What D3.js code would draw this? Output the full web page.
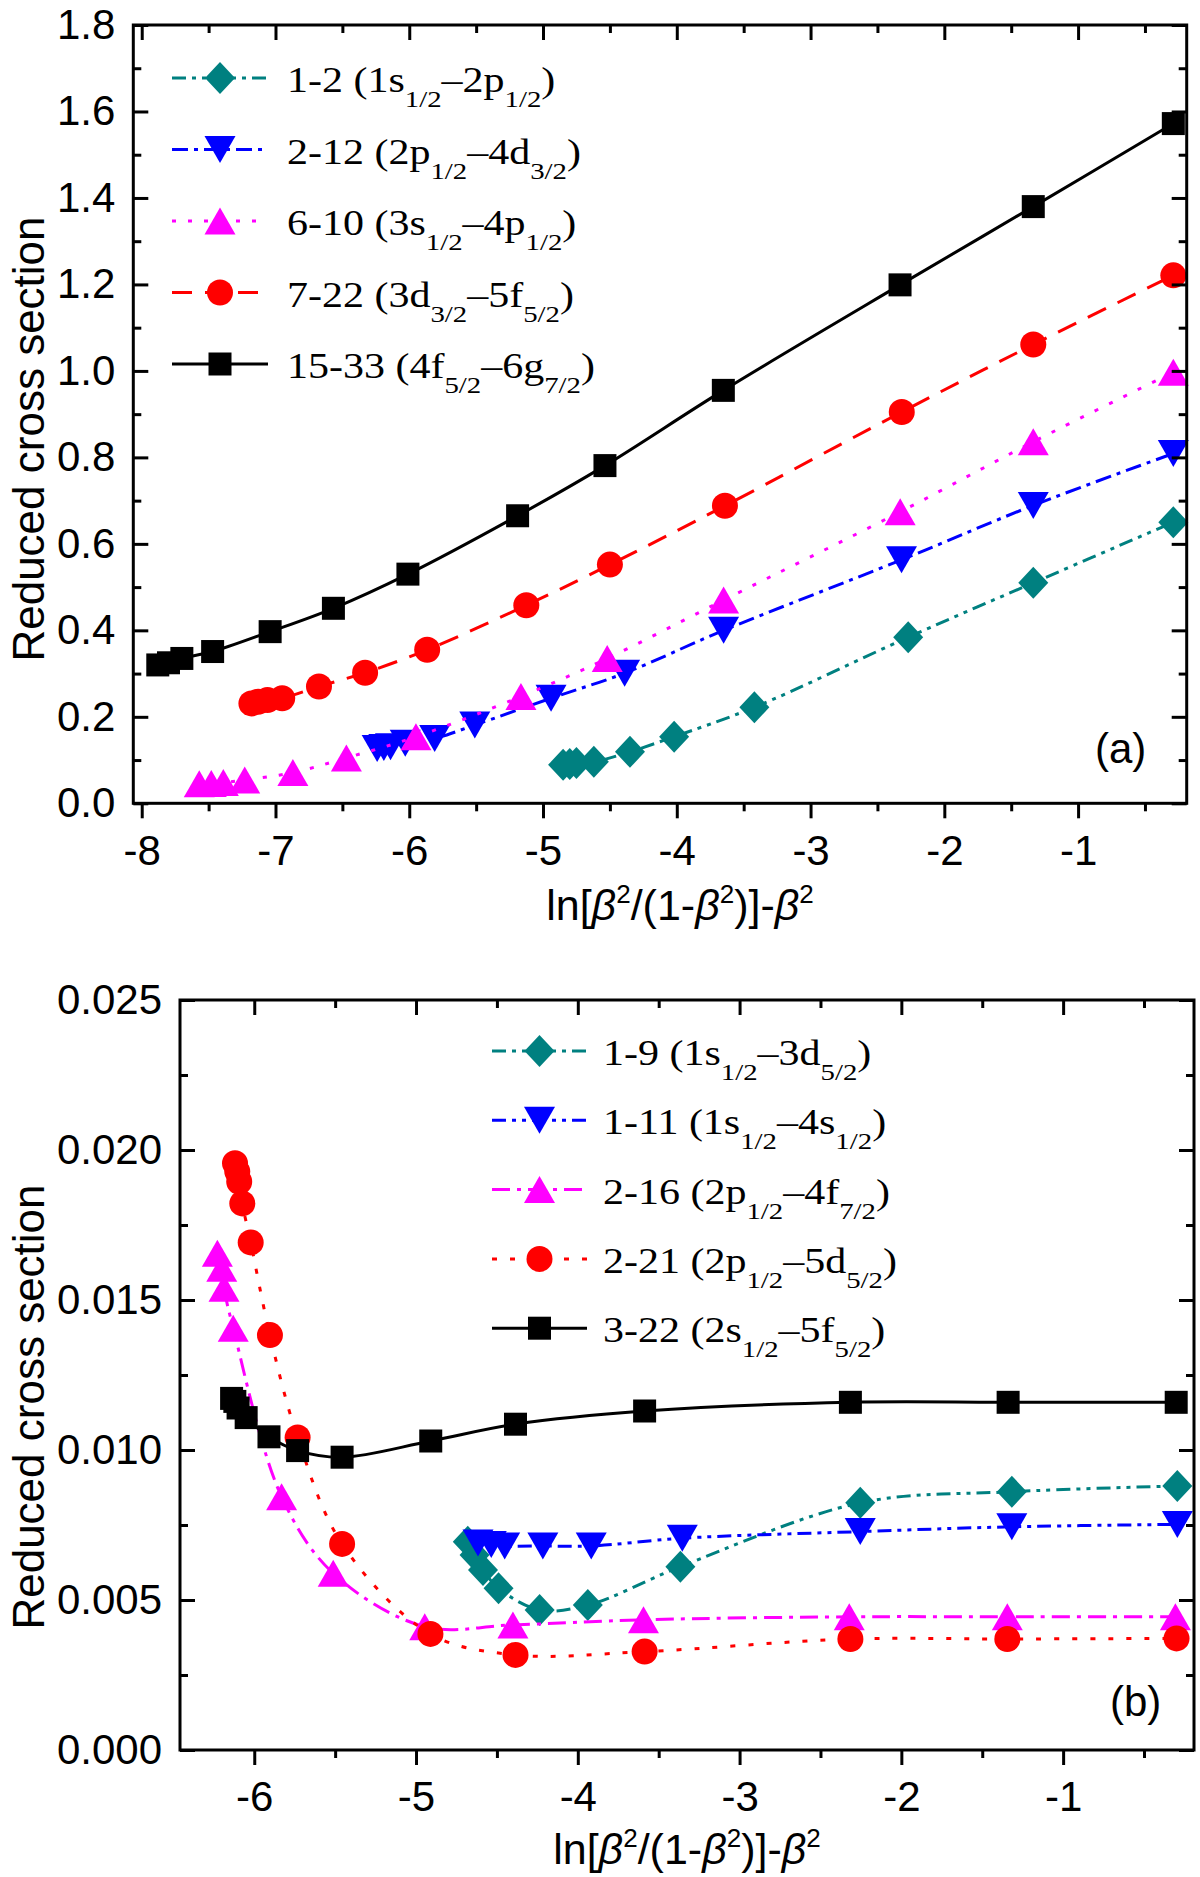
<!DOCTYPE html>
<html>
<head>
<meta charset="utf-8">
<script src="https://cdn.jsdelivr.net/npm/d3@7"></script>
<style>
  body { margin: 0; background: #fff; }
  svg { display: block; }
</style>
</head>
<body>
<svg id="chart" width="1200" height="1877"></svg>
<script>
// ---- panel (a) data ----
const a12X = [-4.85, -4.80, -4.75, -4.62, -4.35, -4.02, -3.42, -2.27, -1.335, -0.288];
const a12Y = [0.089, 0.091, 0.093, 0.096, 0.119, 0.154, 0.222, 0.384, 0.510, 0.650];
const a212X = [-6.24, -6.19, -6.14, -6.03, -5.81, -5.51, -4.94, -4.39, -3.65, -2.32, -1.335, -0.288];
const a212Y = [0.127, 0.129, 0.131, 0.139, 0.150, 0.181, 0.243, 0.301, 0.400, 0.563, 0.689, 0.809];
const a610X = [-7.57, -7.48, -7.39, -7.23, -6.87, -6.47, -5.95, -5.165, -4.52, -3.65, -2.33, -1.335, -0.288];
const a610Y = [0.045, 0.046, 0.048, 0.054, 0.071, 0.105, 0.154, 0.247, 0.335, 0.470, 0.674, 0.836, 0.997];
const a722X = [-7.18, -7.13, -7.06, -6.95, -6.675, -6.33, -5.866, -5.125, -4.50, -3.64, -2.318, -1.335, -0.288];
const a722Y = [0.231, 0.235, 0.239, 0.243, 0.270, 0.302, 0.355, 0.458, 0.552, 0.688, 0.905, 1.061, 1.221];
const a1533X = [-7.88, -7.80, -7.70, -7.47, -7.04, -6.567, -6.01, -5.19, -4.537, -3.652, -2.331, -1.335, -0.288];
const a1533Y = [0.320, 0.325, 0.335, 0.351, 0.397, 0.451, 0.530, 0.665, 0.781, 0.955, 1.199, 1.380, 1.572];

// ---- panel (b) data ----
const b19X = [-4.68, -4.638, -4.586, -4.49, -4.236, -3.938, -3.366, -2.254, -1.317, -0.294];
const b19Y = [0.00694, 0.00650, 0.00600, 0.00539, 0.00467, 0.00483, 0.00611, 0.00824, 0.00861, 0.00880];
const b111X = [-4.617, -4.535, -4.452, -4.216, -3.917, -3.354, -2.254, -1.317, -0.294];
const b111Y = [0.00690, 0.00685, 0.00680, 0.00680, 0.00680, 0.00706, 0.00728, 0.00744, 0.00752];
const b216X = [-6.228, -6.201, -6.187, -6.130, -5.831, -5.512, -4.946, -4.401, -3.594, -2.322, -1.345, -0.306];
const b216Y = [0.01656, 0.01606, 0.01539, 0.01406, 0.00844, 0.00589, 0.00411, 0.00417, 0.00434, 0.00444, 0.00444, 0.00444];
const b221X = [-6.119, -6.105, -6.093, -6.074, -6.022, -5.903, -5.732, -5.457, -4.911, -4.385, -3.587, -2.315, -1.345, -0.299];
const b221Y = [0.01956, 0.01928, 0.01894, 0.01822, 0.01692, 0.01383, 0.01042, 0.00687, 0.00387, 0.00317, 0.00328, 0.00370, 0.00370, 0.00372];
const b322X = [-6.14, -6.12, -6.10, -6.05, -5.909, -5.732, -5.457, -4.909, -4.385, -3.587, -2.315, -1.340, -0.301];
const b322Y = [0.01172, 0.01162, 0.01140, 0.01108, 0.01044, 0.00998, 0.00976, 0.01030, 0.01086, 0.01130, 0.01159, 0.01159, 0.01159];

// ---- ticks ----
const aXMajor = [-8, -7, -6, -5, -4, -3, -2, -1];
const aXMinor = [-7.5, -6.5, -5.5, -4.5, -3.5, -2.5, -1.5, -0.5];
const aYMajor = [0, 0.2, 0.4, 0.6, 0.8, 1.0, 1.2, 1.4, 1.6, 1.8];
const aYMinor = [0.1, 0.3, 0.5, 0.7, 0.9, 1.1, 1.3, 1.5, 1.7];
const bXMajor = [-6, -5, -4, -3, -2, -1];
const bXMinor = [-5.5, -4.5, -3.5, -2.5, -1.5, -0.5];
const bYMajor = [0, 0.005, 0.010, 0.015, 0.020, 0.025];
const bYMinor = [0.0025, 0.0075, 0.0125, 0.0175, 0.0225];

// ---- legend labels: [text, kind] ----
const aLabels = [
  [['1-2 (1s', ''], ['1/2', 'sub'], ['\u20132p', ''], ['1/2', 'sub'], [')', '']],
  [['2-12 (2p', ''], ['1/2', 'sub'], ['\u20134d', ''], ['3/2', 'sub'], [')', '']],
  [['6-10 (3s', ''], ['1/2', 'sub'], ['\u20134p', ''], ['1/2', 'sub'], [')', '']],
  [['7-22 (3d', ''], ['3/2', 'sub'], ['\u20135f', ''], ['5/2', 'sub'], [')', '']],
  [['15-33 (4f', ''], ['5/2', 'sub'], ['\u20136g', ''], ['7/2', 'sub'], [')', '']]
];
const bLabels = [
  [['1-9 (1s', ''], ['1/2', 'sub'], ['\u20133d', ''], ['5/2', 'sub'], [')', '']],
  [['1-11 (1s', ''], ['1/2', 'sub'], ['\u20134s', ''], ['1/2', 'sub'], [')', '']],
  [['2-16 (2p', ''], ['1/2', 'sub'], ['\u20134f', ''], ['7/2', 'sub'], [')', '']],
  [['2-21 (2p', ''], ['1/2', 'sub'], ['\u20135d', ''], ['5/2', 'sub'], [')', '']],
  [['3-22 (2s', ''], ['1/2', 'sub'], ['\u20135f', ''], ['5/2', 'sub'], [')', '']]
];
const xTitle = [['ln[', ''], ['\u03b2', 'it'], ['2', 'sup'], ['/(1-', ''], ['\u03b2', 'it'], ['2', 'sup'], [')]-', ''], ['\u03b2', 'it'], ['2', 'sup']];
const yTitle = 'Reduced cross section';

const TEAL = '#008080', BLUE = '#0000ff', MAG = '#ff00ff', RED = '#ff0000', BLACK = '#000000';
const SANS = '"Liberation Sans", Arial, Helvetica, sans-serif';
const SERIF = '"Liberation Serif", "Times New Roman", Times, serif';

const svg = d3.select('#chart');

// marker shapes, centred on their bounding box
function markerPath(type) {
  switch (type) {
    case 'square': return 'M-11.5,-11.5h23v23h-23Z';
    case 'up': return 'M0,-13.5L15.5,13.5L-15.5,13.5Z';
    case 'down': return 'M-15.5,-13.5L15.5,-13.5L0,13.5Z';
    case 'diamond': return 'M0,-16L15,0L0,16L-15,0Z';
    default: return d3.symbol(d3.symbolCircle, Math.PI * 13 * 13)();
  }
}

function addRich(text, parts, small, subShift, supShift) {
  let cur = 0;
  parts.forEach(function(p) {
    const kind = p[1];
    const target = kind === 'sub' ? subShift : kind === 'sup' ? supShift : 0;
    const ts = text.append('tspan').attr('dy', target - cur).text(p[0]);
    if (kind === 'sub' || kind === 'sup') ts.style('font-size', small + 'px');
    if (kind === 'it') ts.style('font-style', 'italic');
    cur = target;
  });
}

function drawPanel(p) {
  const x = d3.scaleLinear().domain(p.xDomain).range([p.left, p.right]);
  const y = d3.scaleLinear().domain(p.yDomain).range([p.bottom, p.top]);
  const g = svg.append('g');

  const line = d3.line()
    .x(d => x(d[0]))
    .y(d => y(d[1]))
    .curve(d3.curveCatmullRom.alpha(0.5));

  // series, each line then its markers
  p.series.forEach(function(s) {
    const pts = s.xs.map((v, i) => [v, s.ys[i]]);
    g.append('path')
      .attr('d', line(pts))
      .attr('fill', 'none')
      .attr('stroke', s.color)
      .attr('stroke-width', 3)
      .attr('stroke-dasharray', s.dash);
    g.append('g')
      .selectAll('path')
      .data(pts)
      .enter()
      .append('path')
      .attr('d', markerPath(s.marker))
      .attr('transform', d => `translate(${x(d[0])},${y(d[1])})`)
      .attr('fill', s.color);
  });

  // axes
  function styleAxis(sel) {
    sel.select('.domain').remove();
    sel.selectAll('line').attr('stroke', '#000').attr('stroke-width', 3);
    sel.attr('font-family', SANS).attr('font-size', 42);
  }
  const fmtX = d => String(d);

  g.append('g').attr('transform', `translate(0,${p.bottom})`)
    .call(d3.axisBottom(x).tickValues(p.xMajor).tickSize(15).tickPadding(p.xPad).tickFormat(fmtX))
    .call(styleAxis);
  g.append('g').attr('transform', `translate(0,${p.bottom})`)
    .call(d3.axisBottom(x).tickValues(p.xMinor).tickSize(8).tickFormat(''))
    .call(styleAxis);
  g.append('g').attr('transform', `translate(0,${p.top})`)
    .call(d3.axisTop(x).tickValues(p.xMajor).tickSize(-15).tickFormat(''))
    .call(styleAxis);
  g.append('g').attr('transform', `translate(0,${p.top})`)
    .call(d3.axisTop(x).tickValues(p.xMinor).tickSize(-8).tickFormat(''))
    .call(styleAxis);
  g.append('g').attr('transform', `translate(${p.left},0)`)
    .call(d3.axisLeft(y).tickValues(p.yMajor).tickSize(-15).tickPadding(18).tickFormat(d => d.toFixed(p.yDec)))
    .call(styleAxis);
  g.append('g').attr('transform', `translate(${p.left},0)`)
    .call(d3.axisLeft(y).tickValues(p.yMinor).tickSize(-8).tickFormat(''))
    .call(styleAxis);
  g.append('g').attr('transform', `translate(${p.right},0)`)
    .call(d3.axisRight(y).tickValues(p.yMajor).tickSize(-15).tickFormat(''))
    .call(styleAxis);
  g.append('g').attr('transform', `translate(${p.right},0)`)
    .call(d3.axisRight(y).tickValues(p.yMinor).tickSize(-8).tickFormat(''))
    .call(styleAxis);

  // frame
  g.append('rect')
    .attr('x', p.left).attr('y', p.top)
    .attr('width', p.right - p.left).attr('height', p.bottom - p.top)
    .attr('fill', 'none').attr('stroke', '#000').attr('stroke-width', 3);

  // axis titles
  const xt = g.append('text')
    .attr('x', p.xTitleX).attr('y', p.xTitleY)
    .attr('text-anchor', 'middle')
    .style('font-family', SANS).style('font-size', '43px');
  addRich(xt, xTitle, 26, 0, -17);

  g.append('text')
    .attr('transform', `translate(44,${p.yTitleY}) rotate(-90)`)
    .attr('text-anchor', 'middle')
    .style('font-family', SANS).style('font-size', '44px')
    .text(yTitle);

  // panel tag
  g.append('text')
    .attr('x', p.tagX).attr('y', p.tagY)
    .style('font-family', SANS).style('font-size', '42px')
    .text(p.tag);

  // legend (serif text, a little wider than plain Times)
  const lg = g.append('g');
  p.series.forEach(function(s, i) {
    const ly = p.legend.y0 + i * p.legend.dy;
    lg.append('line')
      .attr('x1', p.legend.x1).attr('x2', p.legend.x2)
      .attr('y1', ly).attr('y2', ly)
      .attr('stroke', s.color).attr('stroke-width', 3)
      .attr('stroke-dasharray', s.dash);
    lg.append('path')
      .attr('d', markerPath(s.marker))
      .attr('transform', `translate(${(p.legend.x1 + p.legend.x2) / 2},${ly})`)
      .attr('fill', s.color);
    const t = lg.append('text')
      .attr('transform', `translate(${p.legend.tx},${ly + 14}) scale(1.2,1)`)
      .style('font-family', SERIF).style('font-size', '35px');
    addRich(t, p.labels[i], 24, 15, 0);
  });
}

drawPanel({
  left: 133.3, right: 1186.7, top: 25, bottom: 803.3,
  xDomain: [-8.063, -0.188], yDomain: [0, 1.8],
  xMajor: aXMajor, xMinor: aXMinor, yMajor: aYMajor, yMinor: aYMinor,
  yDec: 1, xPad: 17,
  xTitleX: 680, xTitleY: 920, yTitleY: 439,
  tag: '(a)', tagX: 1095, tagY: 763,
  legend: { x1: 172, x2: 268, tx: 287, y0: 78, dy: 71.5 },
  labels: aLabels,
  series: [
    { xs: a12X, ys: a12Y, color: TEAL, marker: 'diamond', dash: '14,6,4,6,4,6' },
    { xs: a212X, ys: a212Y, color: BLUE, marker: 'down', dash: '16,6,4,6' },
    { xs: a610X, ys: a610Y, color: MAG, marker: 'up', dash: '4,12' },
    { xs: a722X, ys: a722Y, color: RED, marker: 'circle', dash: '20,13' },
    { xs: a1533X, ys: a1533Y, color: BLACK, marker: 'square', dash: null }
  ]
});

drawPanel({
  left: 180, right: 1194, top: 1000, bottom: 1750,
  xDomain: [-6.459, -0.191], yDomain: [0, 0.025],
  xMajor: bXMajor, xMinor: bXMinor, yMajor: bYMajor, yMinor: bYMinor,
  yDec: 3, xPad: 16,
  xTitleX: 687, xTitleY: 1864, yTitleY: 1407,
  tag: '(b)', tagX: 1110, tagY: 1716,
  legend: { x1: 492, x2: 587, tx: 603, y0: 1051, dy: 69.3 },
  labels: bLabels,
  series: [
    { xs: b19X, ys: b19Y, color: TEAL, marker: 'diamond', dash: '14,6,4,6,4,6' },
    { xs: b111X, ys: b111Y, color: BLUE, marker: 'down', dash: '14,6,4,6,4,6' },
    { xs: b216X, ys: b216Y, color: MAG, marker: 'up', dash: '18,7,4,7' },
    { xs: b221X, ys: b221Y, color: RED, marker: 'circle', dash: '5,13' },
    { xs: b322X, ys: b322Y, color: BLACK, marker: 'square', dash: null }
  ]
});
</script>
</body>
</html>
